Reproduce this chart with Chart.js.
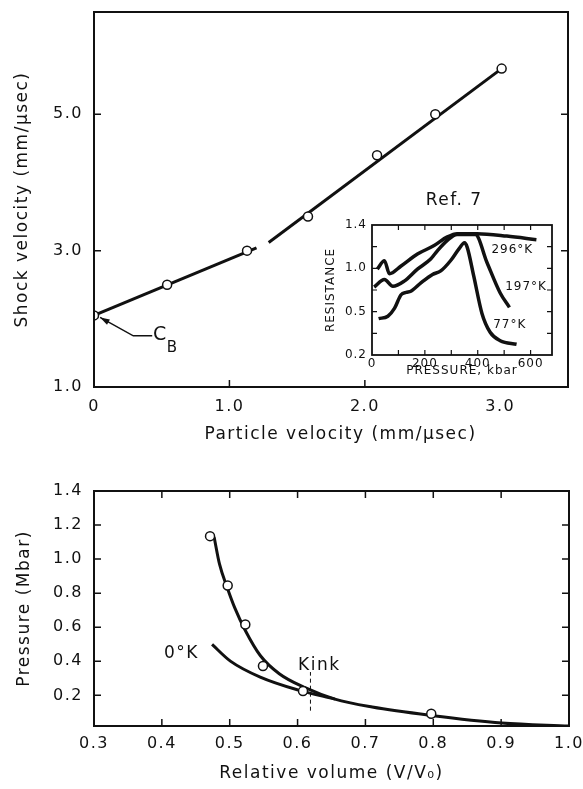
<!DOCTYPE html>
<html>
<head>
<meta charset="utf-8">
<script src="https://cdn.jsdelivr.net/npm/chart.js@4.4.1/dist/chart.umd.min.js"></script>
<style>
  html, body { margin: 0; padding: 0; background: #fff; }
  body { width: 583px; height: 789px; position: relative; overflow: hidden; }
  canvas { position: absolute; }
  #top { left: 0; top: 0; }
  #bottom { left: 0; top: 450px; }
  #inset { left: 320px; top: 212px; }
</style>
</head>
<body>
<canvas id="top" width="583" height="450" style="width:583px;height:450px"></canvas>
<canvas id="bottom" width="583" height="339" style="width:583px;height:339px"></canvas>
<canvas id="inset" width="250" height="175" style="width:250px;height:175px"></canvas>
<script>
// --- top panel: shock velocity vs particle velocity
const PARTICLE_VEL = [0, 0.54, 1.13, 1.58, 2.09, 2.52, 3.01];
const SHOCK_VEL = [2.05, 2.5, 3.0, 3.5, 4.4, 5.0, 5.67];
const FIT_LOW_X = [0, 1.2];
const FIT_LOW_Y = [2.05, 3.04];
const FIT_HIGH_X = [1.29, 3.01];
const FIT_HIGH_Y = [3.12, 5.67];
const TOP_X_TICKS = [0, 1, 2, 3];
const TOP_Y_TICKS = [1, 3, 5];

// --- inset (Ref. 7): resistance vs pressure, y counted in tick steps
const INSET_X_TICKS = [0, 200, 400, 600];
const INSET_Y_TICKS = [0, 2, 4, 6];
const INSET_Y_TEXT = ["0.2", "0.5", "1.0", "1.4"];
const R296_P = [20, 47, 66, 110, 172, 235, 285, 322, 397, 510, 622];
const R296_R = [3.96, 4.35, 3.75, 4.11, 4.66, 5.05, 5.45, 5.6, 5.6, 5.49, 5.32];
const R197_P = [8, 47, 79, 122, 172, 222, 248, 285, 322, 391, 435, 485, 520];
const R197_R = [3.14, 3.49, 3.17, 3.41, 3.96, 4.43, 4.82, 5.29, 5.56, 5.56, 4.27, 2.86, 2.2];
const R77_P = [25, 60, 85, 110, 129, 147, 185, 229, 260, 297, 329, 350, 360, 385, 416, 447, 485, 547];
const R77_R = [1.68, 1.79, 2.15, 2.78, 2.89, 2.94, 3.33, 3.72, 3.88, 4.35, 4.9, 5.18, 4.98, 3.64, 1.92, 1.05, 0.66, 0.5];

// --- bottom panel: pressure vs relative volume
const REL_VOL = [0.471, 0.497, 0.523, 0.549, 0.608, 0.797];
const PRESSURE = [1.135, 0.845, 0.616, 0.372, 0.225, 0.092];
const HUG_X = [0.477, 0.485, 0.496, 0.507, 0.523, 0.545, 0.573, 0.611, 0.655, 0.71, 0.797, 0.901, 1.0];
const HUG_Y = [1.13, 0.97, 0.836, 0.718, 0.581, 0.434, 0.327, 0.245, 0.178, 0.131, 0.082, 0.038, 0.02];
const COLD_X = [0.474, 0.501, 0.545, 0.6, 0.655];
const COLD_Y = [0.499, 0.401, 0.307, 0.232, 0.178];
const KINK_X = [0.619, 0.619];
const KINK_Y = [0.11, 0.337];
const BOT_X_TICKS = [0.3, 0.4, 0.5, 0.6, 0.7, 0.8, 0.9, 1.0];
const BOT_Y_TICKS = [0.2, 0.4, 0.6, 0.8, 1.0, 1.2, 1.4];

const INK = "#111";
const FONT = "'DejaVu Sans', sans-serif";

function pts(xs, ys) {
  return xs.map((x, i) => ({ x, y: ys[i] }));
}

function fixTicks(values) {
  return (scale) => { scale.ticks = values.map((v) => ({ value: v })); };
}

// full box round the plot area, with short inward ticks
const frameTicks = {
  id: "frameTicks",
  afterDatasetsDraw(chart, args, opts) {
    const { ctx, chartArea: a, scales } = chart;
    const len = opts.len || 6;
    ctx.save();
    ctx.strokeStyle = INK;
    ctx.lineWidth = opts.lineWidth || 2;
    ctx.strokeRect(a.left, a.top, a.right - a.left, a.bottom - a.top);
    ctx.lineWidth = opts.tickWidth || 1.5;
    ctx.beginPath();
    (opts.x || []).forEach((v) => {
      const px = scales.x.getPixelForValue(v);
      ctx.moveTo(px, a.bottom); ctx.lineTo(px, a.bottom - len);
      if (opts.top) { ctx.moveTo(px, a.top); ctx.lineTo(px, a.top + len); }
    });
    (opts.y || []).forEach((v) => {
      const py = scales.y.getPixelForValue(v);
      ctx.moveTo(a.left, py); ctx.lineTo(a.left + len, py);
      if (opts.right) { ctx.moveTo(a.right, py); ctx.lineTo(a.right - len, py); }
    });
    ctx.stroke();
    ctx.restore();
  }
};

// free text and the C_B arrow, placed in data units
const notes = {
  id: "notes",
  beforeLayout(chart, args, opts) { chart.ctx.letterSpacing = opts.spacing || "0px"; },
  beforeDraw(chart, args, opts) { chart.ctx.letterSpacing = opts.spacing || "0px"; },
  afterDraw(chart, args, opts) {
    const { ctx, scales } = chart;
    ctx.save();
    ctx.fillStyle = INK;
    ctx.strokeStyle = INK;
    (opts.items || []).forEach((n) => {
      ctx.font = n.font;
      ctx.textAlign = "center";
      ctx.textBaseline = "middle";
      ctx.fillText(n.text, scales.x.getPixelForValue(n.x), scales.y.getPixelForValue(n.y));
    });
    (opts.arrows || []).forEach((arr) => {
      const p = arr.map(([x, y]) => [scales.x.getPixelForValue(x), scales.y.getPixelForValue(y)]);
      ctx.lineWidth = 1.5;
      ctx.beginPath();
      p.forEach(([x, y], i) => (i ? ctx.lineTo(x, y) : ctx.moveTo(x, y)));
      ctx.stroke();
      const [tx, ty] = p[p.length - 1];
      const [fx, fy] = p[p.length - 2];
      const ang = Math.atan2(ty - fy, tx - fx);
      ctx.beginPath();
      ctx.moveTo(tx, ty);
      ctx.lineTo(tx - 10 * Math.cos(ang - 0.3), ty - 10 * Math.sin(ang - 0.3));
      ctx.lineTo(tx - 10 * Math.cos(ang + 0.3), ty - 10 * Math.sin(ang + 0.3));
      ctx.closePath();
      ctx.fill();
    });
    ctx.restore();
  }
};

function axis(opts) {
  return {
    type: "linear",
    min: opts.min,
    max: opts.max,
    afterBuildTicks: fixTicks(opts.ticks),
    afterFit: (s) => {
      if (opts.height) s.height = opts.height;
      if (opts.width) s.width = opts.width;
      // let layout.padding alone decide where the plot box sits
      s.paddingTop = s.paddingBottom = s.paddingLeft = s.paddingRight = 0;
    },
    grid: { display: false, drawTicks: false },
    border: { display: false },
    ticks: {
      padding: opts.pad,
      autoSkip: false,
      maxRotation: 0,
      color: INK,
      font: { family: FONT, size: opts.size },
      callback: opts.label
    },
    title: {
      display: !!opts.title,
      text: opts.title || "",
      color: INK,
      font: { family: FONT, size: opts.titleSize || opts.size },
      padding: opts.titlePad
    }
  };
}

const pointStyle = {
  showLine: false,
  pointRadius: 4.5,
  pointBackgroundColor: "#fff",
  pointBorderColor: INK,
  pointBorderWidth: 1.5
};

function curve(data, width, extra) {
  return Object.assign({
    data,
    showLine: true,
    borderColor: INK,
    borderWidth: width,
    pointRadius: 0,
    cubicInterpolationMode: "monotone"
  }, extra || {});
}

const baseOpts = {
  responsive: false,
  animation: false,
  events: []
};

new Chart(document.getElementById("top"), {
  type: "scatter",
  data: {
    datasets: [
      Object.assign({ data: pts(PARTICLE_VEL, SHOCK_VEL) }, pointStyle),
      curve(pts(FIT_LOW_X, FIT_LOW_Y), 3, { cubicInterpolationMode: "default", tension: 0 }),
      curve(pts(FIT_HIGH_X, FIT_HIGH_Y), 3, { cubicInterpolationMode: "default", tension: 0 })
    ]
  },
  options: Object.assign({}, baseOpts, {
    layout: { padding: { left: 0, right: 15, top: 12, bottom: 0 } },
    plugins: {
      legend: { display: false },
      tooltip: { enabled: false },
      frameTicks: { x: [1, 2], y: [3, 5], right: true, len: 7 },
      notes: {
        spacing: "1.5px",
        items: [
          // x title sits a little right of the axis centre in the original
          { text: "Particle velocity (mm/\u03bcsec)", x: 1.82, y: 0.3, font: "17px " + FONT },
          { text: "Ref. 7", x: 2.66, y: 3.74, font: "17px " + FONT },
          { text: "C", x: 0.49, y: 1.76, font: "19px " + FONT },
          { text: "B", x: 0.58, y: 1.57, font: "15px " + FONT }
        ],
        arrows: [[[0.43, 1.75], [0.29, 1.75], [0.045, 2.02]]]
      }
    },
    scales: {
      x: axis({
        min: 0, max: 3.5, ticks: TOP_X_TICKS, height: 63, pad: 10, size: 16,
        label: (v) => (v === 0 ? "0" : v.toFixed(1))
      }),
      y: axis({
        min: 1, max: 6.5, ticks: TOP_Y_TICKS, width: 94, pad: 11, size: 16, titleSize: 17,
        label: (v) => v.toFixed(1),
        title: "Shock velocity (mm/\u03bcsec)", titlePad: { top: 12, bottom: 0 }
      })
    }
  }),
  plugins: [frameTicks, notes]
});

new Chart(document.getElementById("inset"), {
  type: "scatter",
  data: {
    datasets: [
      curve(pts(R296_P, R296_R), 3.5),
      curve(pts(R197_P, R197_R), 3.5),
      curve(pts(R77_P, R77_R), 3.5)
    ]
  },
  options: Object.assign({}, baseOpts, {
    layout: { padding: { left: 0, right: 18, top: 13, bottom: 0 } },
    plugins: {
      legend: { display: false },
      tooltip: { enabled: false },
      frameTicks: { x: [100, 200, 300, 400, 500, 600], y: [1, 2, 3, 4, 5], right: true, top: true, len: 5, lineWidth: 1.8, tickWidth: 1.2 },
      notes: {
        spacing: "1px",
        items: [
          { text: "296\u00b0K", x: 531, y: 4.87, font: "12px " + FONT },
          { text: "197\u00b0K", x: 583, y: 3.14, font: "12px " + FONT },
          { text: "77\u00b0K", x: 521, y: 1.41, font: "12px " + FONT }
        ]
      }
    },
    scales: {
      x: axis({
        min: 0, max: 681, ticks: INSET_X_TICKS, height: 32, pad: 2, size: 12,
        label: (v) => String(v),
        title: "PRESSURE, kbar", titlePad: { top: 0, bottom: 9 }
      }),
      y: axis({
        min: 0, max: 6, ticks: INSET_Y_TICKS, width: 52, pad: 5, size: 12,
        label: (v) => INSET_Y_TEXT[INSET_Y_TICKS.indexOf(v)],
        title: "RESISTANCE", titlePad: { top: 4, bottom: 0 }
      })
    }
  }),
  plugins: [frameTicks, notes]
});

new Chart(document.getElementById("bottom"), {
  type: "scatter",
  data: {
    datasets: [
      Object.assign({ data: pts(REL_VOL, PRESSURE) }, pointStyle),
      curve(pts(HUG_X, HUG_Y), 3),
      curve(pts(COLD_X, COLD_Y), 3),
      curve(pts(KINK_X, KINK_Y), 1, { borderDash: [4, 3], cubicInterpolationMode: "default", tension: 0 })
    ]
  },
  options: Object.assign({}, baseOpts, {
    layout: { padding: { left: 0, right: 14, top: 41, bottom: 0 } },
    plugins: {
      legend: { display: false },
      tooltip: { enabled: false },
      frameTicks: { x: [0.4, 0.5, 0.6, 0.7, 0.8, 0.9], y: [0.2, 0.4, 0.6, 0.8, 1.0, 1.2], right: true, top: true, len: 7 },
      notes: {
        spacing: "1.5px",
        items: [
          { text: "0\u00b0K", x: 0.429, y: 0.444, font: "17px " + FONT },
          { text: "Kink", x: 0.632, y: 0.376, font: "17px " + FONT }
        ]
      }
    },
    scales: {
      x: axis({
        min: 0.3, max: 1.0, ticks: BOT_X_TICKS, height: 63, pad: 8, size: 16, titleSize: 17,
        label: (v) => v.toFixed(1),
        title: "Relative volume (V/V\u2080)", titlePad: { top: 0, bottom: 5 }
      }),
      y: axis({
        min: 0.02, max: 1.4, ticks: BOT_Y_TICKS, width: 94, pad: 11, size: 16, titleSize: 17,
        label: (v) => v.toFixed(1),
        title: "Pressure (Mbar)", titlePad: { top: 14, bottom: 0 }
      })
    }
  }),
  plugins: [frameTicks, notes]
});
</script>
</body>
</html>
